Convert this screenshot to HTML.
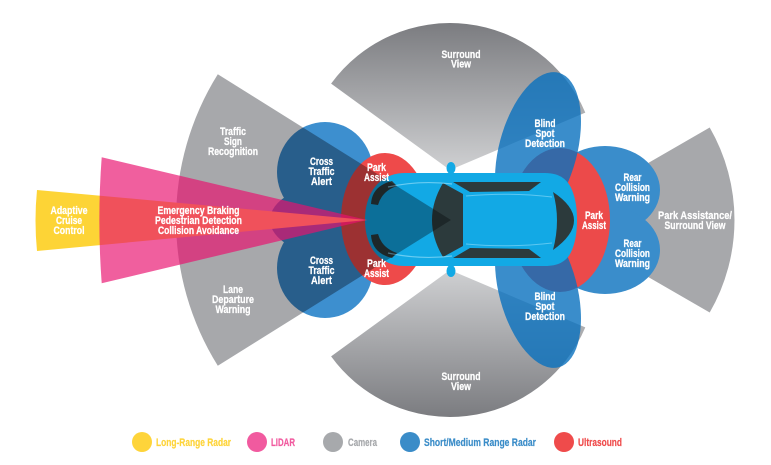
<!DOCTYPE html>
<html>
<head>
<meta charset="utf-8">
<style>
  html,body{margin:0;padding:0;background:#fff;}
  svg{display:block;}
  .t{font-family:"Liberation Sans",sans-serif;font-weight:bold;font-size:10.8px;fill:#fff;stroke:#fff;stroke-width:0.25px;text-anchor:middle;}
  .l{font-family:"Liberation Sans",sans-serif;font-weight:bold;font-size:11px;stroke-width:0.2px;}
</style>
</head>
<body>
<svg width="771" height="465" viewBox="0 0 771 465" xmlns="http://www.w3.org/2000/svg">
  <defs>
    <linearGradient id="gt" x1="0" y1="23" x2="0" y2="170" gradientUnits="userSpaceOnUse">
      <stop offset="0" stop-color="#7b7c80"/>
      <stop offset="1" stop-color="#cfd0d2"/>
    </linearGradient>
    <linearGradient id="gb" x1="0" y1="417" x2="0" y2="270" gradientUnits="userSpaceOnUse">
      <stop offset="0" stop-color="#7b7c80"/>
      <stop offset="1" stop-color="#cfd0d2"/>
    </linearGradient>
  </defs>
  <rect x="0" y="0" width="771" height="465" fill="#ffffff"/>

  <!-- camera sectors (back) -->
  <path d="M549.5,220 L709.7,127.5 A185,185 0 0 1 709.7,312.5 Z" fill="#a7a8ab"/>
  <path d="M450,170 L331.1,83.6 A147,147 0 0 1 585.3,112.6 Z" fill="url(#gt)"/>
  <path d="M450,270 L331.1,356.4 A147,147 0 0 0 585.3,327.4 Z" fill="url(#gb)"/>

  <!-- rear collision radar lobes -->
  <ellipse cx="605" cy="190" rx="55" ry="44" fill="#3a8dcb"/>
  <ellipse cx="605" cy="250" rx="55" ry="44" fill="#3a8dcb"/>

  <!-- rear ultrasound -->
  <ellipse cx="560" cy="220" rx="50" ry="72" fill="#ec4a4a"/>

  <!-- blind spot radars -->
  <ellipse cx="538" cy="150" rx="39" ry="80" transform="rotate(15 538 150)" fill="#0970be" opacity="0.8"/>
  <ellipse cx="538" cy="290" rx="39" ry="80" transform="rotate(-15 538 290)" fill="#0970be" opacity="0.8"/>

  <!-- cross traffic radar -->
  <g fill="#3d8fcf">
    <ellipse cx="325" cy="172" rx="48" ry="50"/>
    <ellipse cx="325" cy="268" rx="48" ry="50"/>
    <ellipse cx="335" cy="220" rx="65" ry="36"/>
  </g>

  <!-- front ultrasound -->
  <ellipse cx="385" cy="219" rx="44" ry="66" fill="#ee4a4a"/>

  <!-- car -->
  <g>
    <ellipse cx="451" cy="168" rx="4.5" ry="6" fill="#12a9e5"/>
    <ellipse cx="451" cy="271" rx="4.5" ry="6" fill="#12a9e5"/>
    <path d="M405,173 L545,173 C560,173 568,180 572,190 C576,200 577,210 577,220 C577,230 576,240 572,250 C568,260 560,266 545,266 L405,266 C382,266 365,250 365,220 C365,190 382,173 405,173 Z" fill="#12a9e5"/>
    <!-- front dark fenders -->
    <path d="M371,204 Q372,186 392,181 L397,186 Q382,191 378,205 Z" fill="#2c3a3c"/>
    <path d="M371,235 Q372,253 392,258 L397,253 Q382,248 378,234 Z" fill="#2c3a3c"/>
    <!-- windshield -->
    <path d="M443,183 L463,194 L463,246 L443,257 Q421,220 443,183 Z" fill="#2c3a3c"/>
    <!-- side windows -->
    <path d="M453,182 L541,182 L529,191 L470,192 Z" fill="#2c3a3c"/>
    <path d="M453,258 L541,258 L529,249 L470,248 Z" fill="#2c3a3c"/>
    <!-- rear window -->
    <path d="M553,192 Q595,220 553,250 Q561,220 553,192 Z" fill="#2c3a3c"/>
    <!-- highlights -->
    <path d="M388,187 Q420,180 452,184" stroke="#8fdcf8" stroke-width="1.2" fill="none" opacity="0.7"/>
    <path d="M388,253 Q420,260 452,256" stroke="#8fdcf8" stroke-width="1.2" fill="none" opacity="0.7"/>
    <path d="M466,196 Q510,192 552,197" stroke="#8fdcf8" stroke-width="1" fill="none" opacity="0.6"/>
    <path d="M466,244 Q510,248 552,243" stroke="#8fdcf8" stroke-width="1" fill="none" opacity="0.6"/>
  </g>

  <!-- front camera sector (multiply) -->
  <path d="M451,220 L217.8,74.3 A275,275 0 0 0 217.8,365.7 Z" fill="#a7a8ab" style="mix-blend-mode:multiply"/>

  <!-- long range radar + lidar -->
  <path d="M367,220 L37,190 Q34,220.5 37,251 Z" fill="#fdd436"/>
  <path d="M367,220 L101.7,157.3 Q97,220 101.7,283.3 Z" fill="#e9106f" opacity="0.67"/>

  <!-- labels -->
  <text class="t" x="69" y="213.8" textLength="37" lengthAdjust="spacingAndGlyphs">Adaptive</text>
  <text class="t" x="69" y="223.8" textLength="26" lengthAdjust="spacingAndGlyphs">Cruise</text>
  <text class="t" x="69" y="233.8" textLength="31" lengthAdjust="spacingAndGlyphs">Control</text>

  <text class="t" x="198.5" y="213.8" textLength="82" lengthAdjust="spacingAndGlyphs">Emergency Braking</text>
  <text class="t" x="198.5" y="223.8" textLength="87" lengthAdjust="spacingAndGlyphs">Pedestrian Detection</text>
  <text class="t" x="198.5" y="233.8" textLength="81" lengthAdjust="spacingAndGlyphs">Collision Avoidance</text>

  <text class="t" x="233" y="134.8" textLength="26" lengthAdjust="spacingAndGlyphs">Traffic</text>
  <text class="t" x="233" y="144.8" textLength="18" lengthAdjust="spacingAndGlyphs">Sign</text>
  <text class="t" x="233" y="154.8" textLength="50" lengthAdjust="spacingAndGlyphs">Recognition</text>

  <text class="t" x="233" y="292.8" textLength="20" lengthAdjust="spacingAndGlyphs">Lane</text>
  <text class="t" x="233" y="302.8" textLength="42" lengthAdjust="spacingAndGlyphs">Departure</text>
  <text class="t" x="233" y="312.8" textLength="35" lengthAdjust="spacingAndGlyphs">Warning</text>

  <text class="t" x="321.5" y="164.8" textLength="23" lengthAdjust="spacingAndGlyphs">Cross</text>
  <text class="t" x="321.5" y="174.8" textLength="26" lengthAdjust="spacingAndGlyphs">Traffic</text>
  <text class="t" x="321.5" y="184.8" textLength="21" lengthAdjust="spacingAndGlyphs">Alert</text>

  <text class="t" x="321.5" y="263.8" textLength="23" lengthAdjust="spacingAndGlyphs">Cross</text>
  <text class="t" x="321.5" y="273.8" textLength="26" lengthAdjust="spacingAndGlyphs">Traffic</text>
  <text class="t" x="321.5" y="283.8" textLength="21" lengthAdjust="spacingAndGlyphs">Alert</text>

  <text class="t" x="376.5" y="170.8" textLength="19" lengthAdjust="spacingAndGlyphs">Park</text>
  <text class="t" x="376.5" y="180.8" textLength="25" lengthAdjust="spacingAndGlyphs">Assist</text>
  <text class="t" x="376.5" y="266.8" textLength="19" lengthAdjust="spacingAndGlyphs">Park</text>
  <text class="t" x="376.5" y="276.8" textLength="25" lengthAdjust="spacingAndGlyphs">Assist</text>

  <text class="t" x="461" y="57.8" textLength="39" lengthAdjust="spacingAndGlyphs">Surround</text>
  <text class="t" x="461" y="67.3" textLength="20" lengthAdjust="spacingAndGlyphs">View</text>
  <text class="t" x="461" y="379.8" textLength="39" lengthAdjust="spacingAndGlyphs">Surround</text>
  <text class="t" x="461" y="389.8" textLength="20" lengthAdjust="spacingAndGlyphs">View</text>

  <text class="t" x="545" y="126.8" textLength="21" lengthAdjust="spacingAndGlyphs">Blind</text>
  <text class="t" x="545" y="136.8" textLength="19" lengthAdjust="spacingAndGlyphs">Spot</text>
  <text class="t" x="545" y="146.8" textLength="40" lengthAdjust="spacingAndGlyphs">Detection</text>
  <text class="t" x="545" y="299.8" textLength="21" lengthAdjust="spacingAndGlyphs">Blind</text>
  <text class="t" x="545" y="309.8" textLength="19" lengthAdjust="spacingAndGlyphs">Spot</text>
  <text class="t" x="545" y="319.8" textLength="40" lengthAdjust="spacingAndGlyphs">Detection</text>

  <text class="t" x="632.5" y="180.8" textLength="18" lengthAdjust="spacingAndGlyphs">Rear</text>
  <text class="t" x="632.5" y="190.8" textLength="35" lengthAdjust="spacingAndGlyphs">Collision</text>
  <text class="t" x="632.5" y="200.8" textLength="35" lengthAdjust="spacingAndGlyphs">Warning</text>
  <text class="t" x="632.5" y="246.8" textLength="18" lengthAdjust="spacingAndGlyphs">Rear</text>
  <text class="t" x="632.5" y="256.8" textLength="35" lengthAdjust="spacingAndGlyphs">Collision</text>
  <text class="t" x="632.5" y="266.8" textLength="35" lengthAdjust="spacingAndGlyphs">Warning</text>

  <text class="t" x="594" y="218.8" textLength="18" lengthAdjust="spacingAndGlyphs">Park</text>
  <text class="t" x="594" y="228.8" textLength="24" lengthAdjust="spacingAndGlyphs">Assist</text>

  <text class="t" x="695" y="218.8" textLength="74" lengthAdjust="spacingAndGlyphs">Park Assistance/</text>
  <text class="t" x="695" y="228.8" textLength="61" lengthAdjust="spacingAndGlyphs">Surround View</text>

  <!-- legend -->
  <circle cx="142" cy="442" r="10" fill="#fed43a"/>
  <text class="l" x="156" y="446" fill="#fed43a" stroke="#fed43a" textLength="75" lengthAdjust="spacingAndGlyphs">Long-Range Radar</text>
  <circle cx="257" cy="442" r="10" fill="#f15a9f"/>
  <text class="l" x="271" y="446" fill="#f15a9f" stroke="#f15a9f" textLength="24" lengthAdjust="spacingAndGlyphs">LIDAR</text>
  <circle cx="333" cy="442" r="10" fill="#a7a9ac"/>
  <text class="l" x="348" y="446" fill="#a7a9ac" stroke="#a7a9ac" textLength="29" lengthAdjust="spacingAndGlyphs">Camera</text>
  <circle cx="410" cy="442" r="10" fill="#3a8cc8"/>
  <text class="l" x="424" y="446" fill="#3a8cc8" stroke="#3a8cc8" textLength="112" lengthAdjust="spacingAndGlyphs">Short/Medium Range Radar</text>
  <circle cx="564" cy="442" r="10" fill="#ef4b4b"/>
  <text class="l" x="578" y="446" fill="#ef4b4b" stroke="#ef4b4b" textLength="44" lengthAdjust="spacingAndGlyphs">Ultrasound</text>
</svg>
</body>
</html>
